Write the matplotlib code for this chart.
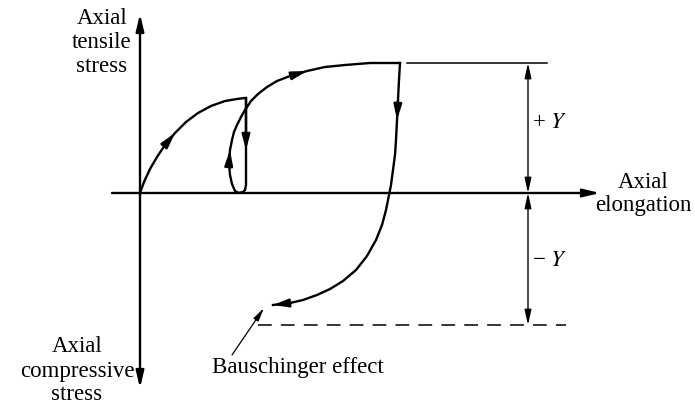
"""Bauschinger effect - schematic stress / elongation path"""
import matplotlib.pyplot as plt

plt.rcParams['font.family'] = ['Liberation Serif', 'DejaVu Serif']
plt.rcParams['mathtext.fontset'] = 'stix'

# path points, pixel coords (x right, y down)
load1_x = [140, 144, 150, 157, 165, 175, 186, 198, 211, 225, 237, 245]
load1_y = [193, 182, 169, 157, 145, 133, 122, 113, 106, 101, 99, 98]

# unload, small loop, reload to the top plateau
reload_x = [246, 246, 246, 245, 243, 239, 235, 232, 230, 229, 230, 232, 234, 237,
            241, 245, 251, 258, 267, 277, 290, 307, 325, 345, 370, 400]
reload_y = [98, 150, 185, 190, 192, 193, 191, 184, 175, 163, 150, 140, 132, 125,
            117, 110, 101, 94, 87, 81, 76, 71, 67, 65, 63, 63]

# unload from the top and into compression
comp_x = [400, 399, 398, 397, 396, 395, 393, 391, 389, 386, 382, 376, 367, 356,
          343, 330, 317, 303, 290, 273]
comp_y = [63, 80, 100, 120, 140, 155, 170, 185, 195, 210, 225, 240, 256, 270,
          281, 289, 295, 300, 303, 305]

y_zero, y_top, y_bot = 193, 63, 325
x_dim = 528

# label lines: text, x centre, y centre
tens_lines = ['Axial', 'tensile', 'stress']
tens_y = [18, 43, 67]
comp_lines = ['Axial', 'compressive', 'stress']
comp_y_lab = [346, 371, 395]
elong_lines = ['Axial', 'elongation']
elong_y = [183, 206]

fig = plt.figure(figsize=(6.95, 4.05), dpi=100)
ax = fig.add_axes([0, 0, 1, 1])
ax.set_xlim(0, 695); ax.set_ylim(405, 0); ax.axis('off')

LW = 1.7
FS = 16.5
HEAD = '-|>,head_length=0.9,head_width=0.24'


def head(xs, ys, i):
    ax.annotate('', xy=(xs[i + 1], ys[i + 1]), xytext=(xs[i], ys[i]),
                arrowprops=dict(arrowstyle=HEAD, color='k', lw=LW, shrinkA=0, shrinkB=0))


# axes
ax.annotate('', xy=(140, 14), xytext=(140, 388),
            arrowprops=dict(arrowstyle='<|-|>,head_length=1.0,head_width=0.24',
                            color='k', lw=LW, shrinkA=0, shrinkB=0))
ax.annotate('', xy=(600, y_zero), xytext=(112, y_zero),
            arrowprops=dict(arrowstyle='-|>,head_length=1.0,head_width=0.24',
                            color='k', lw=LW, shrinkA=0, shrinkB=0))

# stress path
ax.plot(load1_x, load1_y, color='k', lw=LW, solid_capstyle='round')
ax.plot(reload_x, reload_y, color='k', lw=LW, solid_joinstyle='round')
ax.plot(comp_x, comp_y, color='k', lw=LW)
head(load1_x, load1_y, 4)
head(reload_x, reload_y, 0)
head(reload_x, reload_y, 9)
head(reload_x, reload_y, 20)
head(comp_x, comp_y, 2)
head(comp_x, comp_y, 18)

# yield levels
ax.plot([407, 547], [y_top, y_top], color='k', lw=1.1)
ax.plot([258, 566], [y_bot, y_bot], color='k', lw=1.1, ls=(0, (9, 6)))
dim = dict(arrowstyle='<|-|>,head_length=0.9,head_width=0.2', color='k', lw=1.0,
           shrinkA=0, shrinkB=0)
ax.annotate('', xy=(x_dim, y_top), xytext=(x_dim, y_zero), arrowprops=dim)
ax.annotate('', xy=(x_dim, y_zero), xytext=(x_dim, y_bot), arrowprops=dim)
ax.text(532, 122, '+ $Y$', fontsize=FS, va='center', ha='left')
ax.text(532, 261, '\u2212 $Y$', fontsize=FS, va='center', ha='left')

# Bauschinger pointer
ax.annotate('', xy=(264, 308), xytext=(232, 355),
            arrowprops=dict(arrowstyle='-|>,head_length=0.8,head_width=0.17',
                            color='k', lw=0.9, shrinkA=0, shrinkB=0))
ax.text(212, 367, 'Bauschinger effect', fontsize=FS, va='center', ha='left')

# axis labels
for s, yy in zip(tens_lines, tens_y):
    ax.text(102, yy, s, fontsize=FS, ha='center', va='center')
for s, yy in zip(comp_lines, comp_y_lab):
    ax.text(77, yy, s, fontsize=FS, ha='center', va='center')
for s, yy in zip(elong_lines, elong_y):
    ax.text(643, yy, s, fontsize=FS, ha='center', va='center')

plt.savefig('out.png', dpi=100)
